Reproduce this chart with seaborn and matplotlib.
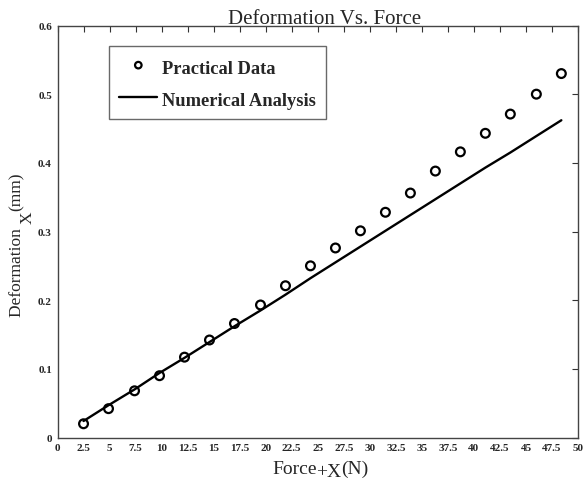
import matplotlib
matplotlib.use("Agg")
import matplotlib.pyplot as plt
import seaborn as sns
import pandas as pd

# Applied force (N) and measured / computed deformation (mm)
force = [2.5, 4.9, 7.4, 9.8, 12.2, 14.6, 17.0, 19.5, 21.9, 24.3,
         26.7, 29.1, 31.5, 33.9, 36.3, 38.7, 41.1, 43.5, 46.0, 48.4]
practical = [0.020, 0.042, 0.068, 0.090, 0.117, 0.142, 0.166, 0.193, 0.221, 0.250,
             0.276, 0.301, 0.328, 0.356, 0.388, 0.416, 0.443, 0.471, 0.500, 0.530]
numerical = [0.024, 0.047, 0.070, 0.094, 0.116, 0.139, 0.162, 0.185, 0.208, 0.232,
             0.255, 0.278, 0.301, 0.324, 0.347, 0.370, 0.393, 0.415, 0.439, 0.462]

x_ticks = [0, 2.5, 5, 7.5, 10, 12.5, 15, 17.5, 20, 22.5, 25, 27.5, 30, 32.5,
           35, 37.5, 40, 42.5, 45, 47.5, 50]
x_tick_labels = ["0", "2.5", "5", "7.5", "10", "12.5", "15", "17.5", "20", "22.5",
                 "25", "27.5", "30", "32.5", "35", "37.5", "40", "42.5", "45", "47.5", "50"]
y_ticks = [0, 0.1, 0.2, 0.3, 0.4, 0.5, 0.6]
y_tick_labels = ["0", "0.1", "0.2", "0.3", "0.4", "0.5", "0.6"]

df = pd.DataFrame({"force": force, "practical": practical, "numerical": numerical})

sns.set_theme(style="white")
plt.rcParams["font.family"] = ["Liberation Serif", "DejaVu Serif"]

W, H = 585, 481
fig = plt.figure(figsize=(W / 100, H / 100), dpi=100)
ax = fig.add_axes([57.5 / W, 1 - 438.5 / H, (578 - 57.5) / W, (438.5 - 26.5) / H])

sns.scatterplot(data=df, x="force", y="practical", ax=ax, marker="o", s=40,
                facecolor="none", edgecolor="black", linewidth=1.6,
                label="Practical Data", zorder=3)
sns.lineplot(data=df, x="force", y="numerical", ax=ax, color="black",
             linewidth=1.7, label="Numerical Analysis", zorder=2)

ax.set_xlim(0, 50)
ax.set_ylim(0, 0.6)
ax.set_xlabel("")
ax.set_ylabel("")
ax.set_xticks(x_ticks)
ax.set_xticklabels(x_tick_labels, fontsize=8, fontweight="bold")
ax.set_yticks(y_ticks)
ax.set_yticklabels(y_tick_labels, fontsize=8, fontweight="bold")
ax.tick_params(direction="in", length=4, width=0.8, color="#333333",
               top=True, right=True, pad=4)

for sp in ax.spines.values():
    sp.set_color("#444444")
    sp.set_linewidth(1.0)

ax.set_title("Deformation Vs. Force", fontsize=15, pad=2, x=0.513)

# x-axis label: Force with a lowered "+X" and the unit
fx = fig.text(272 / W, 1 - 474 / H, "Force", fontsize=14, ha="left", va="baseline")
sx = ax.annotate("+X", xy=(1, 0), xycoords=fx, xytext=(0, -2.5), textcoords="offset points",
                 fontsize=14, ha="left", va="bottom")
ax.annotate("(N)", xy=(1, 0), xycoords=sx, xytext=(0, 2.5), textcoords="offset points",
            fontsize=14, ha="left", va="bottom")

# y-axis label: Deformation with a lowered "X" and the unit
fy = fig.text(21 / W, 1 - 317 / H, "Deformation ", fontsize=12.5, rotation=90,
              rotation_mode="anchor", ha="left", va="baseline")
sy = ax.annotate("X", xy=(1, 1), xycoords=fy, xytext=(8, 0), textcoords="offset points",
                 fontsize=12.5, rotation=90, ha="right", va="bottom")
ax.annotate("(mm)", xy=(1, 1), xycoords=sy, xytext=(-8, 0), textcoords="offset points",
            fontsize=12.5, rotation=90, ha="right", va="bottom")

leg = ax.legend(loc="upper left", bbox_to_anchor=(0.099, 0.950), borderaxespad=0,
                fancybox=False, frameon=True, handlelength=2.05, handleheight=1.3,
                handletextpad=0.25, borderpad=0.56, labelspacing=0.66,
                prop={"family": "Liberation Serif", "weight": "bold", "size": 13.3})
leg.get_frame().set_edgecolor("#444444")
leg.get_frame().set_linewidth(1.0)
for h in leg.legend_handles:
    try:
        h.set_sizes([22])
    except AttributeError:
        pass

fig.savefig("out.png", dpi=100)
